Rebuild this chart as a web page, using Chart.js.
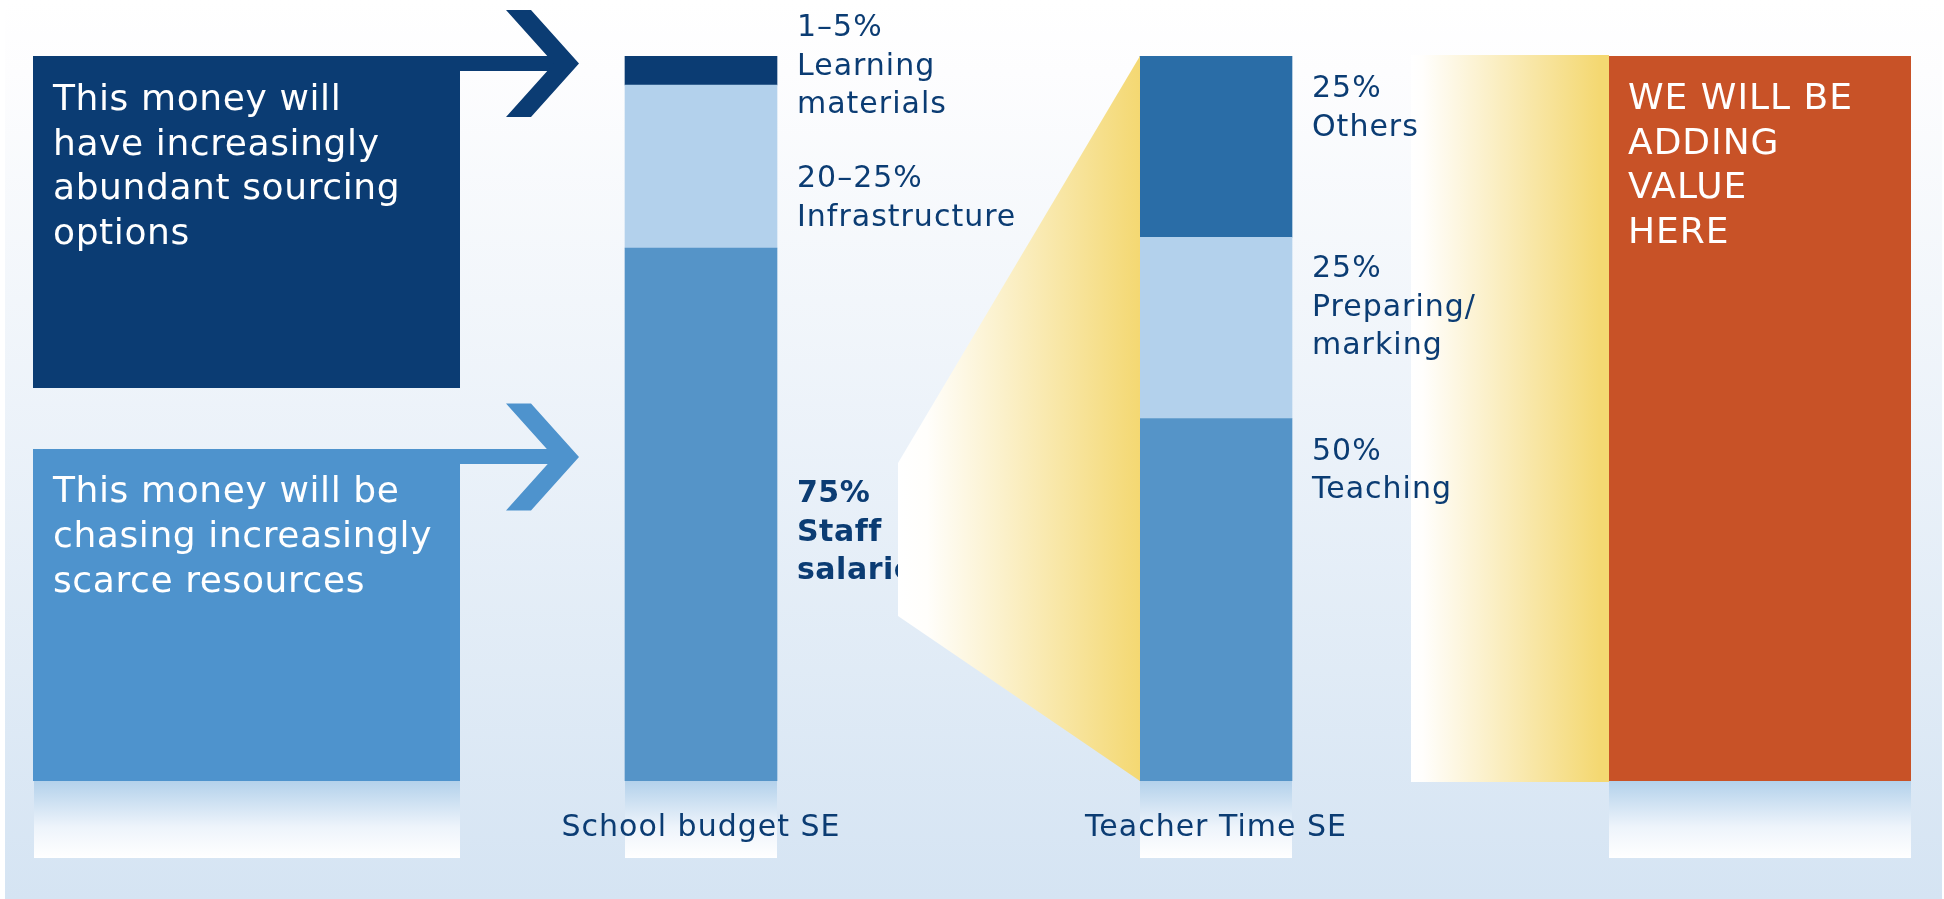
<!DOCTYPE html>
<html>
<head>
<meta charset="utf-8">
<script src="https://cdn.jsdelivr.net/npm/chart.js@4.4.0/dist/chart.umd.min.js"></script>
<style>
html,body{margin:0;padding:0;background:#fff;}
canvas{display:block;}
</style>
</head>
<body>
<canvas id="myChart" width="1944" height="899"></canvas>
<script>
// values (percent of each bar)
const categories = ['School budget SE', 'Teacher Time SE'];
const bottomShare = [73.5, 50];   // staff salaries / teaching
const middleShare = [22.5, 25];   // infrastructure / preparing, marking
const topShare = [4, 25];         // learning materials / others

const bottomText = [['75%', 'Staff', 'salaries'], ['50%', 'Teaching']];
const middleText = [['20–25%', 'Infrastructure'], ['25%', 'Preparing/', 'marking']];
const topText = [['1–5%', 'Learning', 'materials'], ['25%', 'Others']];

const upperBoxText = ['This money will', 'have increasingly', 'abundant sourcing', 'options'];
const lowerBoxText = ['This money will be', 'chasing increasingly', 'scarce resources'];
const valueText = ['WE WILL BE', 'ADDING', 'VALUE', 'HERE'];

const navy = '#0b3c73';
const midBlue = '#5594c8';
const paleBlue = '#b3d1ec';
const othersBlue = '#2a6da7';
const boxBlue = '#4e93cd';
const orange = '#c85227';
const yellow = '#f4d872';
const font = '"DejaVu Sans", Verdana, sans-serif';

const ctx = document.getElementById('myChart');

function reflection(g, x, w, y){
  let gr = g.createLinearGradient(0, y, 0, y + 77);
  gr.addColorStop(0, '#b3d1eb');
  gr.addColorStop(0.6, '#eef4fb');
  gr.addColorStop(1, '#ffffff');
  g.fillStyle = gr;
  g.fillRect(x, y, w, 77);
}

function arrow(g, color, x0, cy, shaftTop){
  g.fillStyle = color;
  g.fillRect(x0, shaftTop, 558 - x0, 15);
  g.beginPath();
  g.moveTo(506, cy - 53.5);
  g.lineTo(531, cy - 53.5);
  g.lineTo(579, cy);
  g.lineTo(531, cy + 53.5);
  g.lineTo(506, cy + 53.5);
  g.lineTo(554, cy);
  g.closePath();
  g.fill();
}

function lines(g, arr, x, y, step){
  arr.forEach((t, k) => g.fillText(t, x, y + k * step));
}

// label offsets from the top of each segment (layout only)
const labelOffset = [[254, 41], [102, 40], [-20, 41]];
const labelText = [bottomText, middleText, topText];

function segLabels(chart, i){
  const g = chart.ctx;
  for (let d = 0; d < 3; d++) {
    const el = chart.getDatasetMeta(d).data[i];
    const x = el.x + el.width / 2 + 20;
    const y = el.y + labelOffset[d][i];
    g.save();
    g.fillStyle = navy;
    g.textBaseline = 'alphabetic';
    g.textAlign = 'left';
    if (i === 0 && d === 0) {
      g.font = 'bold 30px ' + font;
      g.letterSpacing = '0.5px';
    } else {
      g.font = '30px ' + font;
      g.letterSpacing = '1px';
    }
    lines(g, labelText[d][i], x, y, 38.5);
    g.restore();
  }
}

const decorations = {
  id: 'decorations',
  beforeDraw(chart){
    const g = chart.ctx, a = chart.chartArea;
    const top = a.top, base = a.bottom;
    g.save();
    g.fillStyle = '#ffffff';
    g.fillRect(0, 0, chart.width, chart.height);
    let bg = g.createLinearGradient(0, 0, 0, chart.height);
    bg.addColorStop(0, '#ffffff');
    bg.addColorStop(0.08, '#fdfdfe');
    bg.addColorStop(1, '#d5e4f3');
    g.fillStyle = bg;
    g.fillRect(5, 0, 1937, chart.height);

    // reflections under everything standing on the base
    reflection(g, 34, 426, base);
    for (let i = 0; i < categories.length; i++) {
      const el = chart.getDatasetMeta(0).data[i];
      reflection(g, el.x - el.width / 2, el.width, base);
    }
    reflection(g, 1609, 302, base);

    // side boxes and arrows
    g.fillStyle = navy;
    g.fillRect(33, top, 427, 332);
    arrow(g, navy, 459, top + 7.5, top);
    g.fillStyle = boxBlue;
    g.fillRect(33, 449, 427, base - 449);
    arrow(g, boxBlue, 459, 457, 449);

    // white to yellow band and orange box
    let band = g.createLinearGradient(1411, 0, 1609, 0);
    band.addColorStop(0, '#ffffff');
    band.addColorStop(0.06, '#fffefc');
    band.addColorStop(0.95, yellow);
    band.addColorStop(1, yellow);
    g.fillStyle = band;
    g.fillRect(1411, top - 1, 198, base - top + 2);
    g.fillStyle = orange;
    g.fillRect(1609, top, 302, base - top);
    g.restore();
    g.letterSpacing = '1px';
  },
  afterDatasetsDraw(chart){
    const g = chart.ctx, a = chart.chartArea;
    const top = a.top, base = a.bottom;
    segLabels(chart, 0);

    // funnel from the staff salaries bar to the teacher time bar
    const t = chart.getDatasetMeta(0).data[1];
    const right = t.x - t.width / 2;
    g.save();
    let fg = g.createLinearGradient(898, 0, right, 0);
    fg.addColorStop(0, '#ffffff');
    fg.addColorStop(0.12, '#fffefb');
    fg.addColorStop(1, yellow);
    g.fillStyle = fg;
    g.beginPath();
    g.moveTo(right, top);
    g.lineTo(898, 463);
    g.lineTo(898, 616);
    g.lineTo(right, base);
    g.closePath();
    g.fill();
    g.restore();

    segLabels(chart, 1);

    g.save();
    g.fillStyle = '#ffffff';
    g.textAlign = 'left';
    g.textBaseline = 'alphabetic';
    g.font = '36px ' + font;
    g.letterSpacing = '0.6px';
    lines(g, upperBoxText, 53, 110, 44.5);
    lines(g, lowerBoxText, 53, 502, 45);
    g.letterSpacing = '1px';
    lines(g, valueText, 1628, 109, 44.7);
    g.restore();
  }
};

var myChart = new Chart(ctx, {
  type: 'bar',
  data: {
    labels: categories,
    datasets: [
      { label: 'Staff salaries / Teaching', data: bottomShare, backgroundColor: [midBlue, midBlue] },
      { label: 'Infrastructure / Preparing', data: middleShare, backgroundColor: [paleBlue, paleBlue] },
      { label: 'Learning materials / Others', data: topShare, backgroundColor: [navy, othersBlue] }
    ]
  },
  options: {
    responsive: false,
    animation: false,
    datasets: { bar: { barThickness: 152, borderWidth: 0 } },
    layout: { padding: { left: 443.5, right: 470.5, top: 56, bottom: 24 } },
    plugins: { legend: { display: false }, tooltip: { enabled: false } },
    scales: {
      x: {
        stacked: true,
        grid: { display: false, drawTicks: false },
        border: { display: false },
        ticks: { color: navy, padding: 29, font: { family: font, size: 30 } }
      },
      y: { stacked: true, display: false, min: 0, max: 100 }
    }
  },
  plugins: [decorations]
});
</script>
</body>
</html>
